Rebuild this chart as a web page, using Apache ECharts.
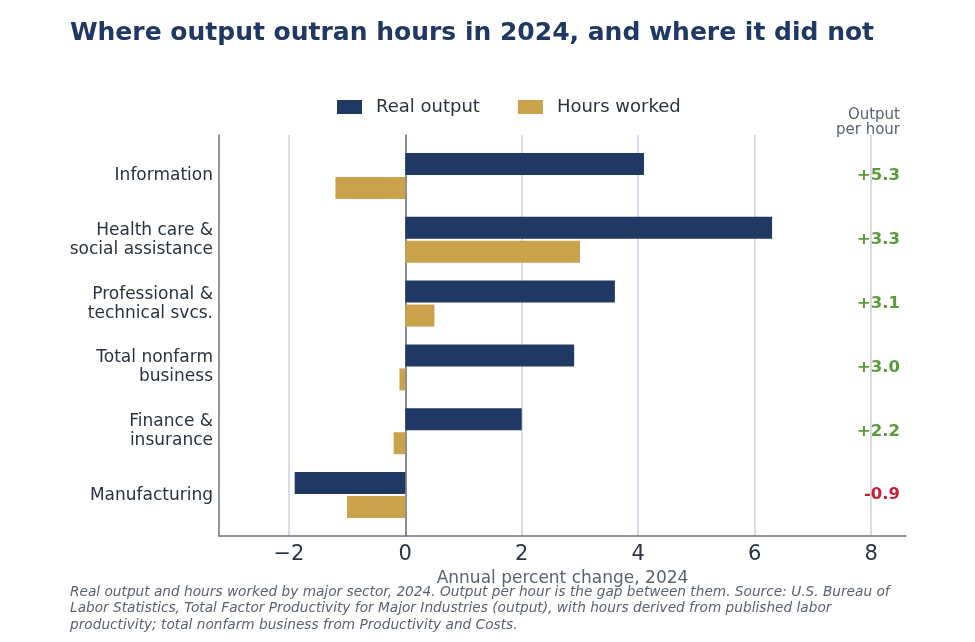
<!DOCTYPE html>
<html>
<head>
<meta charset="utf-8">
<title>Output vs hours 2024</title>
<script src="https://cdn.jsdelivr.net/npm/echarts@6/dist/echarts.min.js"></script>
<style>
  html, body { margin: 0; padding: 0; background: #fff; }
  #chart { width: 975px; height: 642px; }
</style>
</head>
<body>
<div id="chart"></div>
<script>
"use strict";

// sectors, top to bottom
const sectors = ["Information", "Health care &\nsocial assistance", "Professional &\ntechnical svcs.",
    "Total nonfarm\nbusiness", "Finance &\ninsurance", "Manufacturing"];
const realOutput = [4.1, 6.3, 3.6, 2.9, 2.0, -1.9];
const hoursWorked = [-1.2, 3.0, 0.5, -0.1, -0.2, -1.0];
const outputPerHour = [5.3, 3.3, 3.1, 3.0, 2.2, -0.9];
const xTicks = [-2, 0, 2, 4, 6, 8];

const NAVY = "#1f3864";
const GOLD = "#c9a24b";
const INK = "#2a3340";
const GREY = "#5a6270";
const AXIS = "#6b7280";
const FONT = "DejaVu Sans";

const chart = echarts.init(document.getElementById("chart"));

const hiddenValueY = (idx, onZero) => ({
    gridIndex: idx, type: "value", min: 0, max: 1,
    axisLine: { show: true, onZero: onZero, lineStyle: { color: AXIS, width: 1.5 } },
    axisTick: { show: false }, axisLabel: { show: false }, splitLine: { show: false }
});

const option = {
    animation: false,
    textStyle: { fontFamily: FONT },
    title: {
        text: "Where output outran hours in 2024, and where it did not",
        left: 65, top: 16,
        textStyle: { fontFamily: FONT, fontSize: 25, fontWeight: "bold", color: NAVY }
    },
    legend: {
        top: 93, left: 332,
        icon: "rect", itemWidth: 25, itemHeight: 14, itemGap: 38,
        textStyle: { fontFamily: FONT, fontSize: 18, color: INK, padding: [0, 0, 0, 9] },
        data: ["Real output", "Hours worked"]
    },
    grid: [
        { left: 219, right: 69, top: 135, bottom: 106 },   // frame
        { left: 219, right: 69, top: 144, bottom: 115 },   // bars
        { left: 219, right: 69, top: 135, bottom: 106 }    // zero line
    ],
    xAxis: [
        {
            gridIndex: 0, type: "value", min: -3.2, max: 8.6,
            name: "Annual percent change, 2024", nameLocation: "middle", nameGap: 29,
            nameTextStyle: { fontFamily: FONT, fontSize: 17, color: GREY },
            axisLine: { show: true, onZero: false, lineStyle: { color: AXIS, width: 1.5 } },
            axisTick: { show: false, customValues: xTicks },
            axisLabel: {
                customValues: xTicks, fontSize: 21, color: INK, margin: 8,
                formatter: (v) => String(v).replace("-", "\u2212")
            },
            splitLine: { show: true, lineStyle: { color: "#cdd1e1", width: 1.5 } }
        },
        { gridIndex: 1, type: "value", min: -3.2, max: 8.6, show: false },
        { gridIndex: 2, type: "value", min: -3.2, max: 8.6, show: false }
    ],
    yAxis: [
        hiddenValueY(0, false),
        {
            gridIndex: 1, type: "category", inverse: true, data: sectors,
            axisLine: { show: false }, axisTick: { show: false },
            axisLabel: { fontSize: 17, color: INK, margin: 6, lineHeight: 19, padding: [6, 0, 0, 0] }
        },
        {
            gridIndex: 1, type: "category", inverse: true, position: "right",
            data: outputPerHour.map(String),
            axisLine: { show: false }, axisTick: { show: false },
            axisLabel: {
                align: "right", margin: -6,
                formatter: (v) => {
                    const n = parseFloat(v);
                    return n >= 0 ? "{pos|+" + n.toFixed(1) + "}" : "{neg|" + n.toFixed(1) + "}";
                },
                rich: {
                    pos: { fontFamily: FONT, fontSize: 16.5, fontWeight: "bold", color: "#5b9a3a" },
                    neg: { fontFamily: FONT, fontSize: 16.5, fontWeight: "bold", color: "#c8203c" }
                }
            }
        },
        hiddenValueY(2, true)
    ],
    graphic: [
        {
            type: "text", x: 900, y: 108,
            style: {
                text: "Output\nper hour", align: "right", fontFamily: FONT,
                fontSize: 15, lineHeight: 15, fill: GREY
            }
        },
        {
            type: "text", left: 70, top: 584,
            style: {
                text: "Real output and hours worked by major sector, 2024. Output per hour is the gap between them. Source: U.S. Bureau of\n" +
                    "Labor Statistics, Total Factor Productivity for Major Industries (output), with hours derived from published labor\n" +
                    "productivity; total nonfarm business from Productivity and Costs.",
                fontFamily: FONT, fontStyle: "italic", fontSize: 13.7, lineHeight: 16.5, fill: GREY
            }
        }
    ],
    series: [
        {
            name: "Real output", type: "bar", xAxisIndex: 1, yAxisIndex: 1,
            data: realOutput, barWidth: 22, barGap: "9%",
            itemStyle: { color: NAVY }
        },
        {
            name: "Hours worked", type: "bar", xAxisIndex: 1, yAxisIndex: 1,
            data: hoursWorked, barWidth: 22, barGap: "9%",
            itemStyle: { color: GOLD }
        }
    ]
};

chart.setOption(option);
</script>
</body>
</html>
